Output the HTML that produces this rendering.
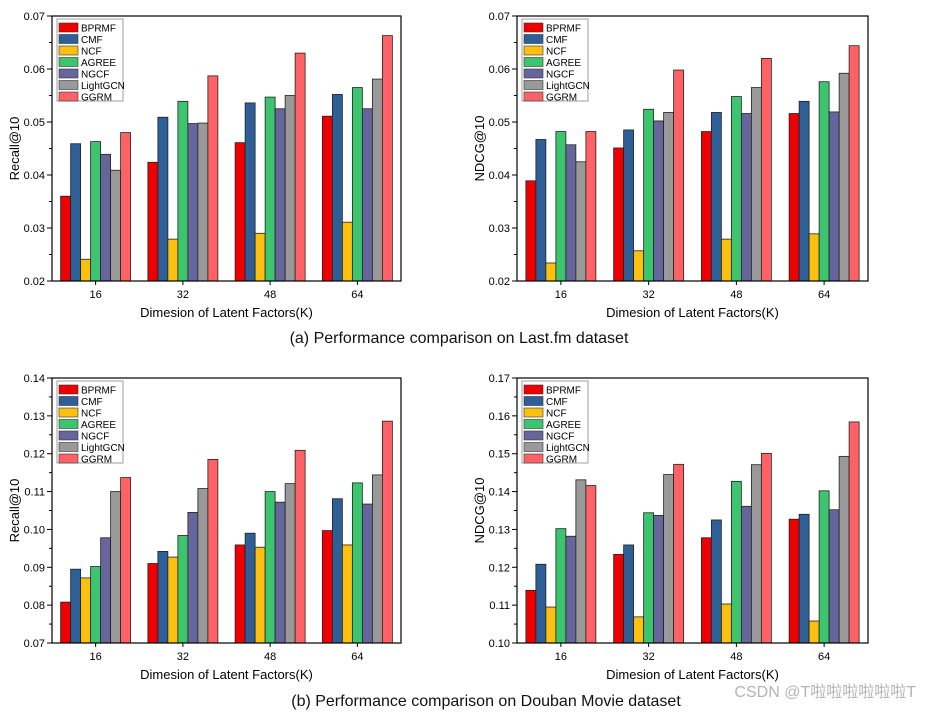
<!DOCTYPE html>
<html><head><meta charset="utf-8"><style>
body{margin:0;background:#fff;width:930px;height:711px;overflow:hidden;font-family:"Liberation Sans",Arial,sans-serif}
svg text{font-family:"Liberation Sans",Arial,sans-serif}
</style></head><body>
<svg id="svg" width="930" height="711">
<text x="459" y="343" font-size="16" text-anchor="middle" fill="#111">(a) Performance comparison on Last.fm dataset</text>
<text x="486" y="706" font-size="16" text-anchor="middle" fill="#111">(b) Performance comparison on Douban Movie dataset</text>
<text x="916" y="697" font-size="16" text-anchor="end" fill="#b4b4b4" font-family="Liberation Sans, Noto Sans CJK SC, sans-serif">CSDN @T啦啦啦啦啦啦T</text>
</svg>
<script>
const series=["BPRMF","CMF","NCF","AGREE","NGCF","LightGCN","GGRM"];
const colors=["#ee0000","#2f5f97","#fcc010","#3cc56e","#66669d","#999999","#ff6266"];
const categories=["16","32","48","64"];
const recallLast=[[.036,.0459,.0241,.0463,.0439,.0409,.048],[.0424,.0509,.0279,.0539,.0497,.0498,.0587],[.0461,.0536,.0290,.0547,.0525,.0550,.0630],[.0511,.0552,.0311,.0565,.0525,.0581,.0663]];
const ndcgLast=[[.0389,.0467,.0234,.0482,.0457,.0425,.0482],[.0451,.0485,.0257,.0524,.0502,.0518,.0598],[.0482,.0518,.0279,.0548,.0516,.0565,.0620],[.0516,.0539,.0289,.0576,.0519,.0592,.0644]];
const recallDouban=[[.0808,.0895,.0872,.0902,.0978,.1100,.1137],[.0910,.0942,.0927,.0984,.1045,.1108,.1185],[.0959,.0990,.0953,.1100,.1072,.1121,.1209],[.0997,.1081,.0959,.1123,.1067,.1144,.1286]];
const ndcgDouban=[[.1139,.1208,.1095,.1302,.1282,.1431,.1416],[.1234,.1259,.1069,.1344,.1337,.1445,.1472],[.1278,.1325,.1103,.1427,.1361,.1471,.1501],[.1327,.1340,.1058,.1402,.1352,.1493,.1584]];
const ticksLast=[0.02,0.03,0.04,0.05,0.06,0.07];
const ticksRecallDouban=[0.07,0.08,0.09,0.10,0.11,0.12,0.13,0.14];
const ticksNdcgDouban=[0.10,0.11,0.12,0.13,0.14,0.15,0.16,0.17];
const svg=document.getElementById('svg');
const NS="http://www.w3.org/2000/svg";
function mk(t,a,p){const e=document.createElementNS(NS,t);for(const k in a)e.setAttribute(k,a[k]);(p||svg).appendChild(e);return e;}
function chart(id,x0,y0,w,h,data,ticks,ylabel,dec){
  const g=mk('g',{});
  
  
  const ymin=ticks[0],ymax=ticks[ticks.length-1];
  const ys=v=>y0+h-(v-ymin)/(ymax-ymin)*h;
  const gw=w/categories.length, bw=10;
  categories.forEach((c,i)=>{
    const cx=x0+gw*(i+0.5);
    data[i].forEach((v,j)=>{
      const r=mk('rect',{x:cx-bw*3.5+j*bw,y:ys(v),width:bw,height:y0+h-ys(v),fill:colors[j],stroke:'#222','stroke-width':0.8},g);
      
      
    });
    mk('line',{x1:cx,x2:cx,y1:y0+h,y2:y0+h+4,stroke:'#000'},g);
    const t=mk('text',{x:cx,y:y0+h+17,'font-size':11,'text-anchor':'middle'},g);
    t.textContent=c;
    
    
  });
  ticks.forEach((tv,i)=>{
    const y=ys(tv);
    mk('line',{x1:x0-5,x2:x0,y1:y,y2:y,stroke:'#000'},g);
    if(i<ticks.length-1){const ym=ys(tv+(ticks[1]-ticks[0])/2);mk('line',{x1:x0-3,x2:x0,y1:ym,y2:ym,stroke:'#000'},g);}
    const t=mk('text',{x:x0-7,y:y+4,'font-size':11,'text-anchor':'end'},g);
    t.textContent=tv.toFixed(dec);
    
    
  });
  const f=mk('rect',{x:x0,y:y0,width:w,height:h,fill:'none',stroke:'#000','stroke-width':1.2},g);
  
  
  const xt=mk('text',{x:x0+w/2,y:y0+h+36,'font-size':13,'text-anchor':'middle'},g);
  xt.textContent='Dimesion of Latent Factors(K)';
  
  
  const yt=mk('text',{x:0,y:0,'font-size':13,'text-anchor':'middle',transform:`translate(${x0-33},${y0+h/2}) rotate(-90)`},g);
  yt.textContent=ylabel;
  
  
  const lg=mk('g',{},g);
  
  
  mk('rect',{x:x0+5,y:y0+3,width:66,height:82,fill:'#fff',stroke:'#888','stroke-width':0.8},lg);
  series.forEach((s,j)=>{
    const yy=y0+7+j*11.5;
    const sw=mk('rect',{x:x0+7,y:yy,width:19,height:9,fill:colors[j],stroke:'#333','stroke-width':0.6},lg);
    
    
    const t=mk('text',{x:x0+29,y:yy+8.5,'font-size':10},lg);
    t.textContent=s;
    
    
  });
}
chart('chart-recall-lastfm',52,16,349,265,recallLast,ticksLast,'Recall@10',2);
chart('chart-ndcg-lastfm',517,16,351,265,ndcgLast,ticksLast,'NDCG@10',2);
chart('chart-recall-douban',52,378,349,265,recallDouban,ticksRecallDouban,'Recall@10',2);
chart('chart-ndcg-douban',517,378,351,265,ndcgDouban,ticksNdcgDouban,'NDCG@10',2);
</script>
</body></html>
